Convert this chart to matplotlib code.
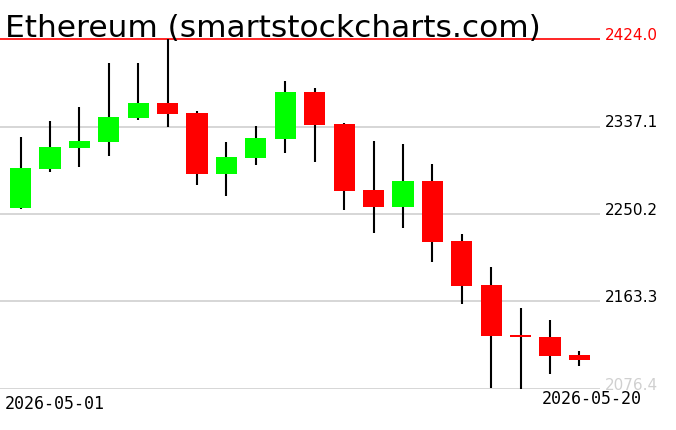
import matplotlib
matplotlib.use("Agg")
import matplotlib.pyplot as plt
import numpy as np

title = "Ethereum (smartstockcharts.com)"
dates = ["2026-05-01", "2026-05-02", "2026-05-03", "2026-05-04", "2026-05-05",
         "2026-05-06", "2026-05-07", "2026-05-08", "2026-05-09", "2026-05-10",
         "2026-05-11", "2026-05-12", "2026-05-13", "2026-05-14", "2026-05-15",
         "2026-05-16", "2026-05-17", "2026-05-18", "2026-05-19", "2026-05-20"]
opens  = [2256.2, 2294.9, 2315.8, 2321.7, 2345.9, 2360.4, 2350.5, 2290.2, 2306.1, 2325.0,
          2371.4, 2339.6, 2274.0, 2257.5, 2283.0, 2223.4, 2179.7, 2130.0, 2128.1, 2110.2]
highs  = [2326.7, 2342.6, 2356.5, 2400.2, 2400.2, 2424.0, 2352.5, 2321.7, 2337.6, 2382.3,
          2375.3, 2340.6, 2322.7, 2319.7, 2299.9, 2230.4, 2197.6, 2156.9, 2145.0, 2114.2]
lows   = [2255.2, 2292.2, 2297.2, 2308.1, 2343.9, 2336.9, 2279.3, 2268.4, 2299.2, 2311.1,
          2302.2, 2254.5, 2231.7, 2236.6, 2202.3, 2161.1, 2077.7, 2076.7, 2091.6, 2099.6]
closes = [2295.9, 2316.8, 2322.7, 2346.5, 2360.4, 2349.5, 2290.2, 2306.8, 2325.7, 2371.4,
          2338.9, 2273.4, 2257.5, 2283.0, 2222.7, 2179.0, 2129.4, 2128.4, 2109.5, 2105.5]
yticks = [2076.4, 2163.3, 2250.2, 2337.1, 2424.0]
ytick_labels = ["2076.4", "2163.3", "2250.2", "2337.1", "2424.0"]

W, H = 676, 431
fig = plt.figure(figsize=(W / 100, H / 100), dpi=100)
ax = fig.add_axes([0, 41 / H, 600 / W, 390 / H])
ax.set_axis_off()

n = len(dates)
x = np.arange(n)
o = np.array(opens); c = np.array(closes); hi = np.array(highs); lo = np.array(lows)
up = c >= o
colors = np.where(up, "#00ff00", "#ff0000")

ax.set_xlim(-0.70, n - 0.30)
ymin = yticks[0]
ymax = yticks[-1] + (yticks[-1] - yticks[0]) * 40 / 350
ax.set_ylim(ymin, ymax)

for t in yticks[:-1]:
    ax.axhline(t, color="#d0d0d0", lw=1.2, zorder=0)
ax.axhline(yticks[-1], color="#ff0000", lw=1.2, zorder=0)

ax.vlines(x, lo, hi, color="black", lw=1.5, zorder=2)
bottoms = np.minimum(o, c)
heights = np.maximum(np.abs(c - o), 1.6)
ax.bar(x, heights, bottom=bottoms, width=0.72, color=colors, zorder=3, linewidth=0)

tr = ax.get_yaxis_transform()
lab_colors = ["#d0d0d0", "black", "black", "black", "#ff0000"]
for t, lab, col in zip(yticks, ytick_labels, lab_colors):
    ax.text(1.0 + 5 / 600, t, lab, transform=tr, ha="left", va="baseline",
            fontsize=11, color=col, clip_on=False, zorder=1)

ax.annotate(dates[0], xy=(x[0], ymin), xytext=(-15.5, -5), textcoords="offset pixels",
            ha="left", va="top", fontsize=12, family="DejaVu Sans Mono",
            annotation_clip=False)
ax.annotate(dates[-1], xy=(x[-1], ymin), xytext=(-38, 0), textcoords="offset pixels",
            ha="left", va="top", fontsize=12, family="DejaVu Sans Mono",
            annotation_clip=False, zorder=5)

fig.text(5 / W, 1 - 37 / H, title, ha="left", va="baseline", fontsize=22.5,
         color="black")

fig.savefig("out.png", dpi=100)
